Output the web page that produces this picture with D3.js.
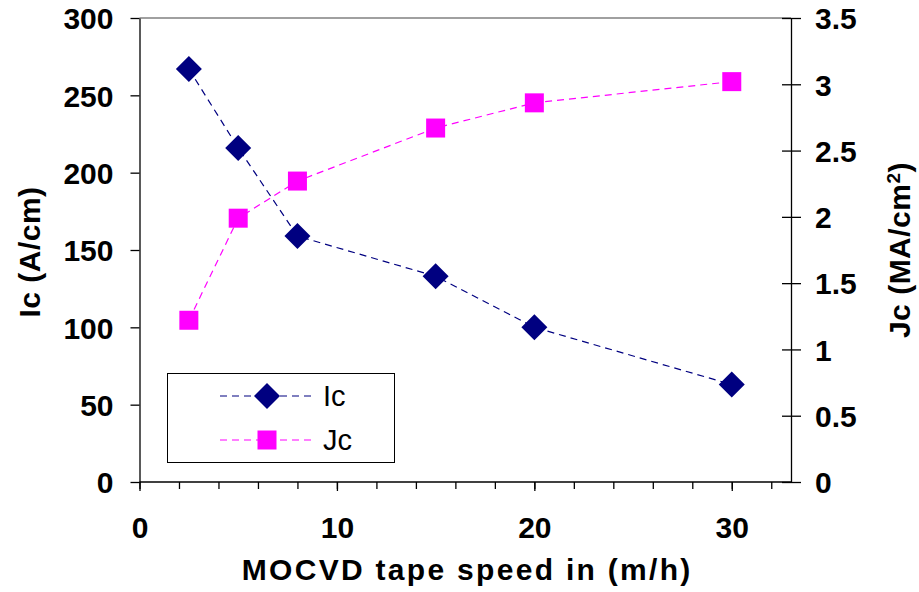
<!DOCTYPE html>
<html>
<head>
<meta charset="utf-8">
<script src="https://cdn.jsdelivr.net/npm/d3@7"></script>
<style>
  body { margin: 0; background: #fff; }
  text { font-family: "Liberation Sans", Arial, sans-serif; }
</style>
</head>
<body>
<script>
// tape speed (m/h)
const speeds = [2.5, 5, 8, 15, 20, 30]
// critical current Ic (A/cm), left axis
const icValues = [267, 216, 159, 133, 100, 63]
// critical current density Jc (MA/cm2), right axis
const jcValues = [1.22, 1.99, 2.27, 2.67, 2.86, 3.02]

const xTicks = [0, 10, 20, 30]
const xMinorTicks = d3.range(0, 33, 2)
const leftTicks = [0, 50, 100, 150, 200, 250, 300]
const rightTicks = [0, 0.5, 1, 1.5, 2, 2.5, 3, 3.5]

const W = 919, H = 592
let margin = {top: 18, right: 128, bottom: 110, left: 139.5}
let width = W - margin.left - margin.right,
    height = H - margin.top - margin.bottom

const svg = d3.select("body").append("svg")
    .attr("width", W)
    .attr("height", H)

const container = svg.append("g")
    .attr("transform", `translate(${margin.left}, ${margin.top})`)

const x = d3.scaleLinear().domain([0, 33]).range([0, width])
const yL = d3.scaleLinear().domain([0, 300]).range([height, 0])
const yR = d3.scaleLinear().domain([0, 3.5]).range([height, 0])

const fontSize = 30

// plot area top border (grey)
container.append("line")
    .attr("x1", 0).attr("x2", width)
    .attr("y1", 0).attr("y2", 0)
    .style("stroke", "#808080")
    .style("stroke-width", 1.5)

// x axis: minor ticks first, then labelled major ones
container.append("g")
    .attr("transform", `translate(0, ${height})`)
    .call(d3.axisBottom(x).tickValues(xMinorTicks).tickSize(7).tickFormat(""))
    .call(g => g.select(".domain").remove())
const xAxis = container.append("g")
    .attr("transform", `translate(0, ${height})`)
    .call(d3.axisBottom(x).tickValues(xTicks).tickSize(9).tickPadding(26).tickSizeOuter(0))
xAxis.select(".domain").attr("d", `M0,0H${width}`)

const yAxisL = container.append("g")
    .call(d3.axisLeft(yL).tickValues(leftTicks).tickSize(9).tickPadding(17).tickSizeOuter(0))

// right axis ticks cross the axis line
const yAxisR = container.append("g")
    .attr("transform", `translate(${width}, 0)`)
    .call(d3.axisRight(yR).tickValues(rightTicks).tickFormat(d => d).tickSize(10).tickPadding(14).tickSizeOuter(0))
yAxisR.selectAll(".tick line").attr("x1", -9)

;[xAxis, yAxisL, yAxisR].forEach(g => {
    g.selectAll("text")
        .style("font-size", fontSize + "px")
        .style("font-weight", "bold")
        .attr("fill", "#000")
    g.selectAll("line, path").style("stroke", "#000").style("stroke-width", 1.3)
})
yAxisL.selectAll("text").attr("dy", "0.36em")
yAxisR.selectAll("text").attr("dy", "0.36em")
container.selectAll(".tick line").style("stroke", "#000").style("stroke-width", 1.3)

// axis titles
svg.append("text")
    .attr("x", margin.left + x(16.6))
    .attr("y", 580)
    .style("text-anchor", "middle")
    .style("font-size", fontSize + "px")
    .style("font-weight", "bold")
    .style("letter-spacing", "2.3px")
    .text("MOCVD tape speed in (m/h)")

svg.append("text")
    .attr("transform", `translate(40, ${margin.top + height / 2 + 2}) rotate(-90)`)
    .style("text-anchor", "middle")
    .style("font-size", fontSize + "px")
    .style("font-weight", "bold")
    .style("letter-spacing", "0.5px")
    .text("Ic (A/cm)")

const jcTitle = svg.append("text")
    .attr("transform", `translate(910, ${margin.top + height / 2}) rotate(-90)`)
    .style("text-anchor", "middle")
    .style("font-size", fontSize + "px")
    .style("font-weight", "bold")
    .style("letter-spacing", "0.5px")
jcTitle.append("tspan").text("Jc (MA/cm")
jcTitle.append("tspan").attr("dy", "-0.55em").style("font-size", "19px").text("2")
jcTitle.append("tspan").attr("dy", "0.35em").text(")")

const icColor = "#000080",
      jcColor = "#ff00ff"

const icData = speeds.map((s, i) => ({x: s, y: icValues[i]}))
const jcData = speeds.map((s, i) => ({x: s, y: jcValues[i]}))

container.append("path")
    .datum(icData)
    .attr("fill", "none")
    .style("stroke", icColor)
    .style("stroke-width", 1.2)
    .style("stroke-dasharray", "7,5")
    .attr("d", d3.line().x(d => x(d.x)).y(d => yL(d.y)))

container.append("path")
    .datum(jcData)
    .attr("fill", "none")
    .style("stroke", jcColor)
    .style("stroke-width", 1.2)
    .style("stroke-dasharray", "7,5")
    .attr("d", d3.line().x(d => x(d.x)).y(d => yR(d.y)))

const diamond = d3.symbol().type(d3.symbolSquare).size(13 * 13 * 2)
const square = d3.symbol().type(d3.symbolSquare).size(19 * 19)

container.selectAll(".ic")
    .data(icData)
    .enter()
    .append("path")
    .attr("class", "ic")
    .attr("d", diamond)
    .attr("transform", d => `translate(${x(d.x)}, ${yL(d.y)}) rotate(45)`)
    .style("fill", icColor)

container.selectAll(".jc")
    .data(jcData)
    .enter()
    .append("path")
    .attr("class", "jc")
    .attr("d", square)
    .attr("transform", d => `translate(${x(d.x)}, ${yR(d.y)})`)
    .style("fill", jcColor)

// legend
const legend = svg.append("g")
legend.append("rect")
    .attr("x", 167.5).attr("y", 373.5)
    .attr("width", 227).attr("height", 89)
    .style("fill", "#fff")
    .style("stroke", "#000")
    .style("stroke-width", 1)

const legendItems = [
    {name: "Ic", color: icColor, shape: diamond, rot: 45, y: 396},
    {name: "Jc", color: jcColor, shape: square, rot: 0, y: 440}
]
legendItems.forEach(it => {
    legend.append("line")
        .attr("x1", 220).attr("x2", 315)
        .attr("y1", it.y).attr("y2", it.y)
        .style("stroke", it.color)
        .style("stroke-width", 1.2)
        .style("stroke-dasharray", "7,5")
    legend.append("path")
        .attr("d", it.shape)
        .attr("transform", `translate(267, ${it.y}) rotate(${it.rot})`)
        .style("fill", it.color)
    legend.append("text")
        .attr("x", 323)
        .attr("y", it.y)
        .attr("dy", "0.36em")
        .style("font-size", "29px")
        .text(it.name)
})
</script>
</body>
</html>
